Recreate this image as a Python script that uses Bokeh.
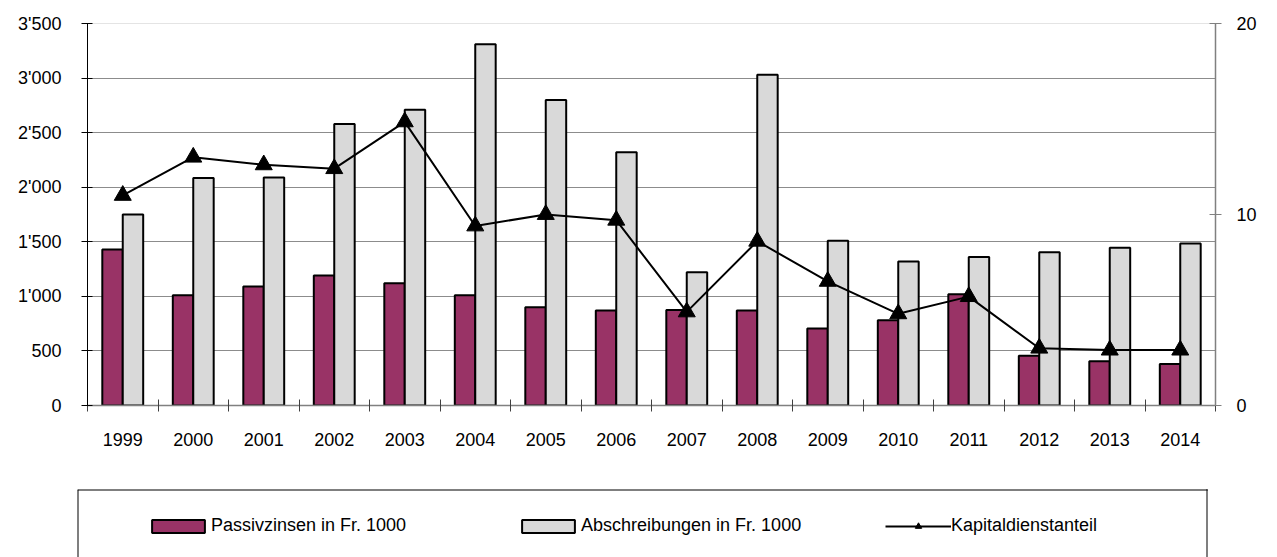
from bokeh.plotting import figure
from bokeh.models import Range1d, LinearAxis, FixedTicker, Legend, LegendItem, ColumnDataSource, Span
from bokeh.transform import dodge
from bokeh.layouts import column
from bokeh.embed import file_html
from bokeh.resources import INLINE

# ---- data ----
years = [1999, 2000, 2001, 2002, 2003, 2004, 2005, 2006, 2007, 2008, 2009, 2010, 2011, 2012, 2013, 2014]
passivzinsen = [1430, 1010, 1090, 1190, 1120, 1010, 900, 870, 875, 870, 705, 780, 1020, 455, 405, 380]
abschreibungen = [1750, 2085, 2090, 2580, 2710, 3310, 2800, 2320, 1220, 3030, 1510, 1320, 1360, 1405, 1445, 1485]
kapitaldienstanteil = [11.0, 13.0, 12.6, 12.4, 14.85, 9.4, 10.0, 9.7, 4.9, 8.6, 6.5, 4.8, 5.7, 3.0, 2.9, 2.9]
left_ticks = [0, 500, 1000, 1500, 2000, 2500, 3000, 3500]
left_labels = ["0", "500", "1'000", "1'500", "2'000", "2'500", "3'000", "3'500"]
right_ticks = [0, 10, 20]
series_names = ["Passivzinsen in Fr. 1000", "Abschreibungen in Fr. 1000", "Kapitaldienstanteil"]

FONT = "Liberation Sans"
FS = "18px"
PURPLE = "#993366"
GREY = "#d9d9d9"

src = ColumnDataSource(dict(year=years, passiv=passivzinsen, absch=abschreibungen, kap=kapitaldienstanteil))

p = figure(width=1277, height=488, output_backend="svg", toolbar_location=None,
           x_range=Range1d(years[0] - 0.5, years[-1] + 0.5), y_range=Range1d(left_ticks[0], left_ticks[-1]),
           min_border_left=87, min_border_right=62, min_border_top=23, min_border_bottom=83,
           frame_align=False)
p.extra_y_ranges = {"right": Range1d(right_ticks[0], right_ticks[-1])}
p.outline_line_color = "#e4e4e4"
p.outline_line_width = 1
p.background_fill_color = "white"
p.border_fill_color = "white"

# grid
p.xgrid.visible = False
p.ygrid.ticker = FixedTicker(ticks=left_ticks[1:-1])
p.ygrid.grid_line_color = "#8c8c8c"
p.ygrid.grid_line_width = 1.2

# x axis
xa = p.xaxis[0]
xa.ticker = FixedTicker(ticks=years, minor_ticks=[y - 0.5 for y in years] + [years[-1] + 0.5])
xa.major_tick_in = 0
xa.major_tick_out = 0
xa.minor_tick_in = 6
xa.minor_tick_out = 6
xa.minor_tick_line_color = "#404040"
xa.minor_tick_line_width = 1
xa.axis_line_color = "#808080"
xa.axis_line_width = 1.5
xa.major_label_standoff = 21
xa.major_label_text_font = FONT
xa.major_label_text_font_size = FS
xa.major_label_text_color = "black"

# left axis
ya = p.yaxis[0]
ya.ticker = FixedTicker(ticks=left_ticks)
ya.major_label_overrides = {t: l for t, l in zip(left_ticks, left_labels)}
ya.minor_tick_line_color = None
ya.major_tick_in = 5
ya.major_tick_out = 6
ya.major_tick_line_color = "black"
ya.axis_line_color = "black"
ya.axis_line_width = 1
ya.major_label_standoff = 20
ya.major_label_text_font = FONT
ya.major_label_text_font_size = FS
ya.major_label_text_color = "black"

# right axis
ra = LinearAxis(y_range_name="right", ticker=FixedTicker(ticks=right_ticks))
ra.minor_tick_line_color = None
ra.major_tick_in = 6
ra.major_tick_out = 6
ra.major_tick_line_color = "#808080"
ra.axis_line_color = "#808080"
ra.axis_line_width = 1.5
ra.major_label_standoff = 15
ra.major_label_text_font = FONT
ra.major_label_text_font_size = FS
ra.major_label_text_color = "black"
p.add_layout(ra, "right")

# glyphs
p.vbar(x=dodge("year", -0.145), top="passiv", width=0.29, source=src,
       fill_color=PURPLE, line_color="black", line_width=2)
p.vbar(x=dodge("year", 0.145), top="absch", width=0.29, source=src,
       fill_color=GREY, line_color="black", line_width=2)
p.line("year", "kap", source=src, y_range_name="right", line_color="black", line_width=2)
p.scatter("year", "kap", source=src, y_range_name="right", marker="triangle", size=17,
          fill_color="black", line_color="black")

# legend panel (box open at the bottom, like the cropped original)
p2 = figure(width=1277, height=69, output_backend="svg", toolbar_location=None,
            x_range=Range1d(0, 1), y_range=Range1d(0, 1),
            x_axis_location=None, y_axis_location=None,
            min_border_left=77, min_border_right=70, min_border_top=1, min_border_bottom=0,
            frame_align=False)
p2.grid.visible = False
p2.outline_line_color = None
p2.background_fill_color = "white"
p2.border_fill_color = "white"
for loc, dim in [(0, "height"), (1, "height"), (1, "width")]:
    p2.add_layout(Span(location=loc, dimension=dim, line_color="black", line_width=2))

d1 = p2.vbar(x=[50], top=[60], bottom=[50], width=1, fill_color=PURPLE, line_color="black", line_width=2)
d2 = p2.vbar(x=[50], top=[60], bottom=[50], width=1, fill_color=GREY, line_color="black", line_width=2)
d3 = p2.line(x=[50, 51], y=[50, 51], line_color="black", line_width=2)
d4 = p2.scatter(x=[50], y=[50], marker="triangle", size=10, fill_color="black", line_color="black")

legend = Legend(items=[LegendItem(label=series_names[0], renderers=[d1]),
                       LegendItem(label=series_names[1], renderers=[d2]),
                       LegendItem(label=series_names[2], renderers=[d3, d4])],
                orientation="horizontal", location=(68, 21),
                glyph_width=66, glyph_height=16, label_standoff=0, label_width=300, label_height=16,
                spacing=4, padding=0, margin=0,
                border_line_alpha=0, background_fill_alpha=0,
                label_text_font=FONT, label_text_font_size=FS, label_text_color="black")
p2.add_layout(legend)

layout = column(p, p2, spacing=0)
open("out.html", "w").write(file_html(layout, INLINE))
